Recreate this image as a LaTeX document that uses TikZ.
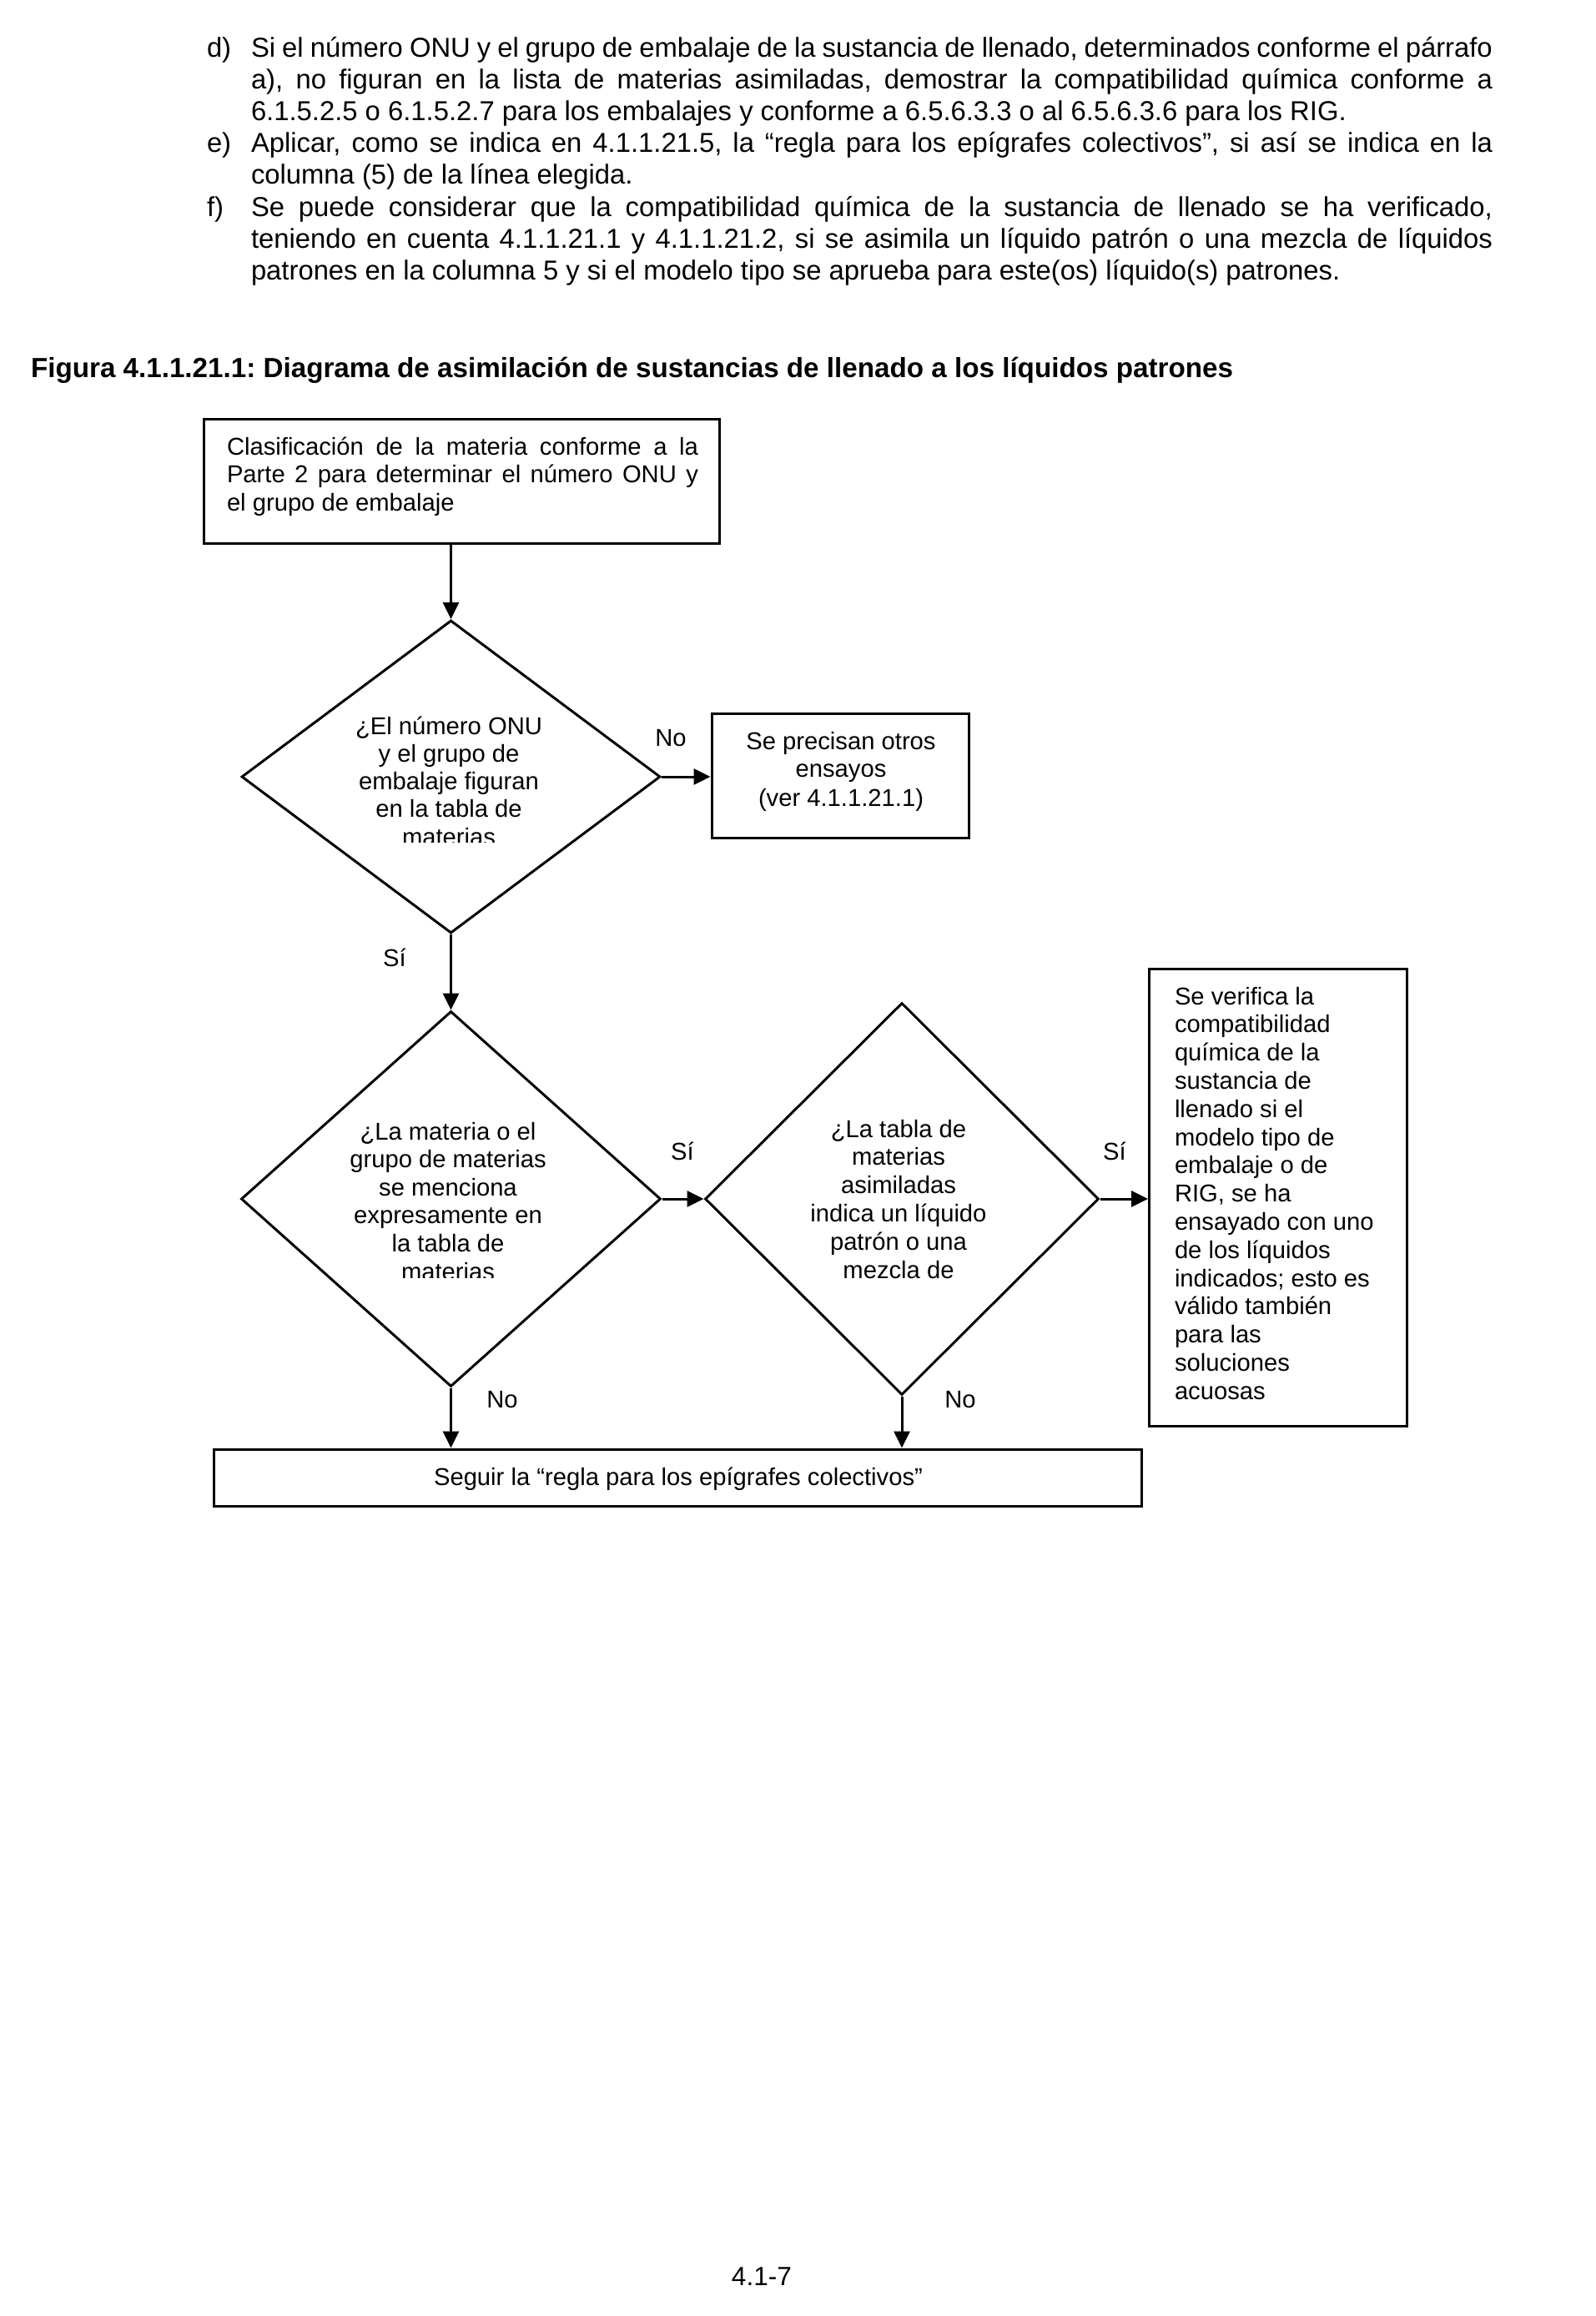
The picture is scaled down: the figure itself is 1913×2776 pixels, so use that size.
\documentclass[tikz,border=0pt]{standalone}
\usepackage{fontspec}
\setmainfont{Liberation Sans}
\usetikzlibrary{shapes.geometric,arrows.meta}
\newcommand\myjust[1]{{\spaceskip=0.278em plus 0.4em minus 0.12em\relax\makebox[372pt][s]{#1}}}
\frenchspacing
\begin{document}
\begin{tikzpicture}[x=0.25pt,y=-0.25pt,
  txt/.style={inner sep=0pt, outer sep=0pt, font=\fontsize{7.3pt}{8.4pt}\selectfont},
  ptxt/.style={inner sep=0pt, outer sep=0pt, anchor=base west, font=\fontsize{8.2pt}{9.4pt}\selectfont},
  lbl/.style={txt, anchor=base},
  lft/.style={txt, anchor=base west},
  box/.style={draw, line width=0.75pt, rectangle, inner sep=0pt},
  dia/.style={draw, line width=0.75pt, diamond, inner sep=0pt, aspect=1},
  arr/.style={line width=0.75pt, -{Triangle[length=5pt,width=4.75pt]}}]
\useasboundingbox (0,0) rectangle (1913,2776);
% paragraph
\node[ptxt] (ld) at (248,68) {d)};
\node[ptxt] (p1) at (301,68) {\myjust{Si el número ONU y el grupo de embalaje de la sustancia de llenado, determinados conforme el párrafo}};
\node[ptxt] (p2) at (301,106) {\myjust{a), no figuran en la lista de materias asimiladas, demostrar la compatibilidad química conforme a}};
\node[ptxt] (p3) at (301,144) {6.1.5.2.5 o 6.1.5.2.7 para los embalajes y conforme a 6.5.6.3.3 o al 6.5.6.3.6 para los RIG.};
\node[ptxt] (le) at (248,182) {e)};
\node[ptxt] (p4) at (301,182) {\myjust{Aplicar, como se indica en 4.1.1.21.5, la “regla para los epígrafes colectivos”, si así se indica en la}};
\node[ptxt] (p5) at (301,220) {columna (5) de la línea elegida.};
\node[ptxt] (lf) at (248,259) {f)};
\node[ptxt] (p6) at (301,259) {\myjust{Se puede considerar que la compatibilidad química de la sustancia de llenado se ha verificado,}};
\node[ptxt] (p7) at (301,297) {\myjust{teniendo en cuenta 4.1.1.21.1 y 4.1.1.21.2, si se asimila un líquido patrón o una mezcla de líquidos}};
\node[ptxt] (p8) at (301,335) {patrones en la columna 5 y si el modelo tipo se aprueba para este(os) líquido(s) patrones.};
% title
\node[lft, font=\fontsize{8.3pt}{9.5pt}\selectfont\bfseries] (title) at (37,452) {Figura 4.1.1.21.1: Diagrama de asimilación de sustancias de llenado a los líquidos patrones};
% shapes
\node[box, minimum width=154.5pt, minimum height=37.25pt] (b1) at (553,576.5) {};
\node[box, minimum width=77pt, minimum height=37.25pt] (b2) at (1007,929.5) {};
\node[box, minimum width=77.25pt, minimum height=137pt] (b3) at (1532,1435) {};
\node[box, minimum width=278pt, minimum height=17pt] (b4) at (812,1771) {};
\node[dia, minimum width=125.5pt, minimum height=93.75pt] (d1) at (540.5,931) {};
\node[dia, minimum width=125.75pt, minimum height=112.5pt] (d2) at (540.5,1437) {};
\node[dia, minimum width=118pt, minimum height=117.5pt] (d3) at (1081,1437) {};
% box texts
\node[lft] (t11) at (272,545) {\makebox[141.25pt][s]{Clasificación de la materia conforme a la}};
\node[lft] (t12) at (272,578) {\makebox[141.25pt][s]{Parte 2 para determinar el número ONU y}};
\node[lft] (t13) at (272,612) {el grupo de embalaje};
\node[lbl] (t21) at (1008,898) {Se precisan otros};
\node[lbl] (t22) at (1008,931) {ensayos};
\node[lbl] (t23) at (1008,966) {(ver 4.1.1.21.1)};
\foreach \s [count=\i from 0] in {Se verifica la, compatibilidad, química de la, sustancia de, llenado si el, modelo tipo de, embalaje o de, {RIG, se ha}, ensayado con uno, de los líquidos, indicados; esto es, válido también, para las, soluciones, acuosas}
  \node[lft] (t3\i) at (1408,1204+33.8*\i) {\s};
\node[lbl] (t41) at (813,1780) {Seguir la “regla para los epígrafes colectivos”};
% diamond texts
\begin{scope}
\clip (300,840) rectangle (780,1009);
\foreach \s [count=\i from 0] in {¿El número ONU, y el grupo de, embalaje figuran, en la tabla de, materias}
  \node[lbl] (u1\i) at (538,880+33.3*\i) {\s};
\end{scope}
\begin{scope}
\clip (300,1320) rectangle (780,1531);
\foreach \s [count=\i from 0] in {¿La materia o el, grupo de materias, se menciona, expresamente en, la tabla de, materias}
  \node[lbl] (u2\i) at (537,1366+33.6*\i) {\s};
\end{scope}
\foreach \s [count=\i from 0] in {¿La tabla de, materias, asimiladas, indica un líquido, patrón o una, mezcla de}
  \node[lbl] (u3\i) at (1077,1363+33.8*\i) {\s};
% labels
\node[lbl] (n1) at (804,894) {No};
\node[lbl] (s1) at (473,1158) {Sí};
\node[lbl] (s2) at (818,1390) {Sí};
\node[lbl] (s3) at (1336,1390) {Sí};
\node[lbl] (n2) at (602,1687) {No};
\node[lbl] (n3) at (1151,1687) {No};
% page number
\node[lbl, font=\fontsize{7.9pt}{9pt}\selectfont] (pg) at (913,2739) {4.1-7};
% connectors
\draw[arr] (d1.north |- b1.south) -- (d1.north);
\draw[arr] (d1.east) -- (d1.east -| b2.west);
\draw[arr] (d1.south) -- (d2.north);
\draw[arr] (d2.east) -- (d3.west);
\draw[arr] (d3.east) -- (d3.east -| b3.west);
\draw[arr] (d2.south) -- (d2.south |- b4.north);
\draw[arr] (d3.south) -- (d3.south |- b4.north);
\end{tikzpicture}
\end{document}
